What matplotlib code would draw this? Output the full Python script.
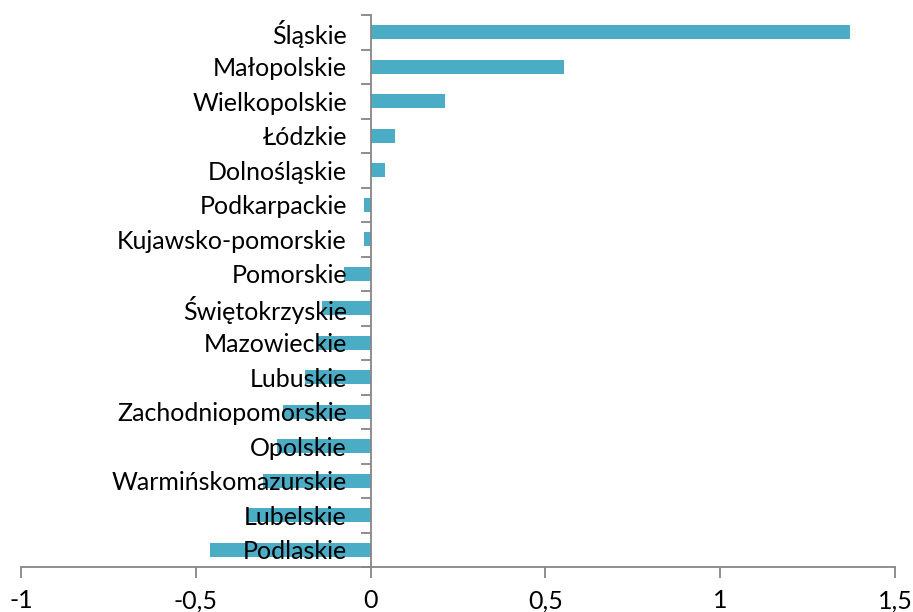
import numpy as np
import matplotlib.pyplot as plt
from matplotlib.ticker import FixedLocator, FuncFormatter

# Dane: województwa i wartości
wojewodztwa = ['Śląskie', 'Małopolskie', 'Wielkopolskie', 'Łódzkie', 'Dolnośląskie',
               'Podkarpackie', 'Kujawsko-pomorskie', 'Pomorskie', 'Świętokrzyskie',
               'Mazowieckie', 'Lubuskie', 'Zachodniopomorskie', 'Opolskie',
               'Warmińskomazurskie', 'Lubelskie', 'Podlaskie']
wartosci = [1.372, 0.552, 0.212, 0.071, 0.042,
            -0.019, -0.019, -0.077, -0.138,
            -0.153, -0.189, -0.250, -0.267,
            -0.308, -0.353, -0.458]
x_ticks = [-1, -0.5, 0, 0.5, 1, 1.5]

plt.rcParams['font.family'] = ['Lato', 'DejaVu Sans']

fig = plt.figure(figsize=(9.13, 6.12), dpi=100)
ax = fig.add_axes([21 / 913, 45 / 612, 874 / 913, 552 / 612])

pos = np.arange(len(wojewodztwa))
ax.barh(pos, wartosci, height=0.4, color='#4bacc6', zorder=1)

ax.set_xlim(-1, 1.5)
ax.set_ylim(len(wojewodztwa) - 0.5, -0.5)

szary = '#868686'
for s in ['top', 'right']:
    ax.spines[s].set_visible(False)
ax.spines['left'].set_position(('data', 0))
ax.spines['left'].set_color(szary)
ax.spines['bottom'].set_color(szary)
ax.spines['left'].set_linewidth(1.3)
ax.spines['bottom'].set_linewidth(1.3)

# oś Y: etykiety w środku kategorii, kreski na granicach
ax.set_yticks(pos)
ax.set_yticklabels(wojewodztwa, fontsize=18)
ax.tick_params(axis='y', which='major', length=0, pad=17)
ax.yaxis.set_minor_locator(FixedLocator(np.arange(-0.5, len(wojewodztwa), 1)))
ax.tick_params(axis='y', which='minor', length=7, width=1.3, color=szary)

# oś X
ax.set_xticks(x_ticks)
ax.xaxis.set_major_formatter(FuncFormatter(lambda v, p: ('%g' % v).replace('.', ',')))
ax.tick_params(axis='x', length=8, width=1.3, color=szary, labelsize=18, pad=8)

plt.savefig('out.png', dpi=100)
